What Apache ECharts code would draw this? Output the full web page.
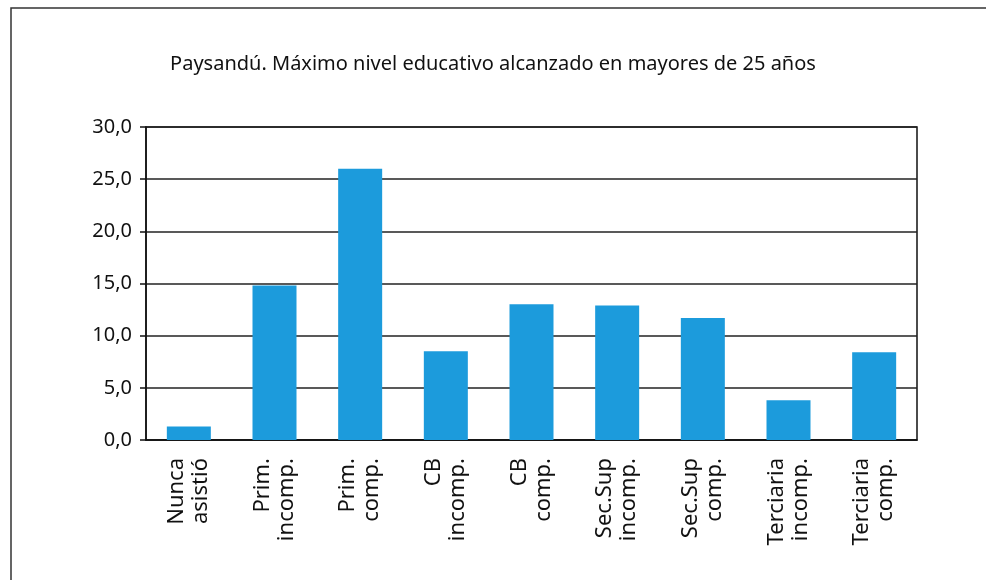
<!DOCTYPE html>
<html><head><meta charset="utf-8">
<script src="https://cdn.jsdelivr.net/npm/echarts@6/dist/echarts.min.js"></script>
<style>html,body{margin:0;padding:0;background:#fff}#c{width:986px;height:580px}</style>
</head><body><div id="c"></div>
<script>
const titleText = "Paysandú. Máximo nivel educativo alcanzado en mayores de 25 años";
const categories = ["Nunca\nasistió","Prim.\nincomp.","Prim.\ncomp.","CB\nincomp.","CB\ncomp.","Sec.Sup\nincomp.","Sec.Sup\ncomp.","Terciaria\nincomp.","Terciaria\ncomp."];
const values = [1.3, 14.8, 26.0, 8.5, 13.0, 12.9, 11.7, 3.8, 8.4];
const yTicks = {min: 0, max: 30, interval: 5};
const FONT = "Noto Sans";
const chart = echarts.init(document.getElementById('c'), null, {renderer: 'canvas'});
chart.setOption({
  animation: false,
  backgroundColor: '#fff',
  title: {text: titleText, left: 'center', top: 49, textStyle: {fontFamily: FONT, fontSize: 20, fontWeight: 'normal', color: '#111'}},
  graphic: [{type: 'rect', shape: {x: 11, y: 8, width: 1000, height: 600}, style: {fill: 'none', stroke: '#333', lineWidth: 1.5}, silent: true}],
  grid: {left: 146, right: 69, top: 127, bottom: 140, show: true, borderColor: '#111', borderWidth: 1.5},
  xAxis: {type: 'category', data: categories, boundaryGap: true,
    axisLine: {lineStyle: {color: '#111', width: 1.5}}, axisTick: {show: false},
    axisLabel: {rotate: 90, fontFamily: FONT, fontSize: 22, color: '#111', lineHeight: 24, margin: 18, interval: 0}},
  yAxis: {type: 'value', min: yTicks.min, max: yTicks.max, interval: yTicks.interval,
    axisLine: {show: true, lineStyle: {color: '#111', width: 1.5}},
    axisTick: {show: true, length: 6, lineStyle: {color: '#111', width: 1.5}},
    axisLabel: {formatter: v => v.toFixed(1).replace('.', ','), fontFamily: FONT, fontSize: 20, color: '#111', margin: 14},
    splitLine: {lineStyle: {color: '#222', width: 1.5}}},
  series: [{type: 'bar', data: values, barWidth: 44, itemStyle: {color: '#1C9BDC'}}]
});
</script></body></html>
